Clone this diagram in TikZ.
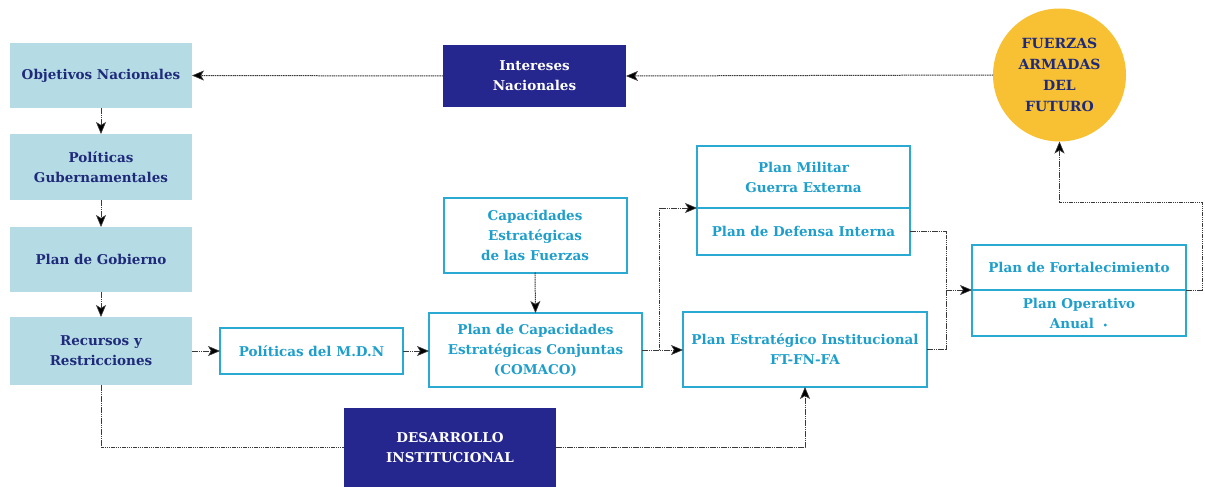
\documentclass[tikz,border=0pt]{standalone}
\usepackage{fontspec}
\setmainfont{DejaVu Serif}
\usetikzlibrary{arrows.meta}
\definecolor{lfill}{HTML}{B5DCE4}
\definecolor{navy}{HTML}{1F2A7A}
\definecolor{dblue}{HTML}{25268E}
\definecolor{cyanb}{HTML}{2AA9D2}
\definecolor{cyant}{HTML}{1E9FCB}
\definecolor{gold}{HTML}{F8C134}
\definecolor{conn}{HTML}{3A3A3A}
\tikzset{
  base/.style={rectangle, inner sep=0pt, outer sep=0pt, align=center, font=\fontsize{13.5}{20}\selectfont\bfseries},
  lbox/.style={base, fill=lfill, text=navy},
  dbox/.style={base, fill=dblue, text=white},
  cbox/.style={base, draw=cyanb, line width=2pt, text=cyant, fill=white},
  conline/.style={draw=conn, line width=1pt, dash pattern=on 1.5pt off 0.7pt},
  arr/.style={conline, -{Stealth[length=12pt,width=10pt,inset=3pt,fill=black,line width=0.6pt]}},
}
\begin{document}
\begin{tikzpicture}[x=1pt,y=-1pt]
\useasboundingbox (0,0) rectangle (1205,487);
% left column
\node[lbox, minimum width=182pt, minimum height=65pt] (obj) at (101,75.5) {Objetivos Nacionales};
\node[lbox, minimum width=182pt, minimum height=66pt] (pol) at (101,167) {Políticas\\Gubernamentales};
\node[lbox, minimum width=182pt, minimum height=65pt] (gob) at (101,259.5) {Plan de Gobierno};
\node[lbox, minimum width=182pt, minimum height=68pt] (rec) at (101,351) {Recursos y\\Restricciones};
% dark boxes
\node[dbox, minimum width=183pt, minimum height=62pt] (int) at (534.5,76) {Intereses\\Nacionales};
\node[dbox, minimum width=212pt, minimum height=79pt] (des) at (450,447.5) {DESARROLLO\\INSTITUCIONAL};
% circle
\node[circle, fill=gold, minimum size=133pt, inner sep=0pt, outer sep=0pt, align=center, text=navy, font=\fontsize{14}{21}\selectfont\bfseries] (circ) at (1059.5,75) {FUERZAS\\ARMADAS\\DEL\\FUTURO};
% cyan boxes
\node[cbox, minimum width=183pt, minimum height=46pt] (mdn) at (311.5,351) {Políticas del M.D.N};
\node[cbox, minimum width=183pt, minimum height=75pt] (cap) at (535,235) {Capacidades\\Estratégicas\\de las Fuerzas};
\node[cbox, minimum width=213pt, minimum height=74pt] (com) at (535.5,350) {Plan de Capacidades\\Estratégicas Conjuntas\\(COMACO)};
\node[cbox, minimum width=213pt, minimum height=62pt] (pmA) at (803.5,177) {Plan Militar\\Guerra Externa};
\node[cbox, minimum width=213pt, minimum height=47pt] (pmB) at (803.5,231.5) {Plan de Defensa Interna};
\node[cbox, minimum width=244pt, minimum height=75pt] (pei) at (805,349.5) {Plan Estratégico Institucional\\FT-FN-FA};
\node[cbox, minimum width=214pt, minimum height=45pt] (fA) at (1079,267.5) {Plan de Fortalecimiento};
\node[cbox, minimum width=214pt, minimum height=46pt] (fB) at (1079,313) {Plan Operativo\\Anual\hspace{9pt}{\fontsize{8}{10}\selectfont•}};
% connectors
\draw[arr] (int.west) -- (obj.east);
\draw[arr] (circ.west) -- (int.east);
\draw[arr] (obj.south) -- (pol.north);
\draw[arr] (pol.south) -- (gob.north);
\draw[arr] (gob.south) -- (rec.north);
\draw[arr] (rec.east) -- (mdn.west);
\draw[arr] (mdn.east) -- (mdn.east -| com.west);
\draw[arr] (cap.south) -- (com.north);
\draw[arr] (com.east) -- (com.east -| pei.west);
\coordinate (br) at (659,350);
\draw[arr] (br) |- (pmA.south west);
\coordinate (j) at (946,290);
\draw[conline] (pmB.east) -| (j);
\draw[conline] (pei.east) -| (j);
\draw[arr] (j) -- (fA.south west);
\coordinate (k) at (1202,202);
\draw[arr] (fA.south east) -| (k) -| (circ.south);
\draw[conline] (rec.south) |- (des.west);
\draw[arr] (des.east) -| (pei.south);
\end{tikzpicture}
\end{document}
